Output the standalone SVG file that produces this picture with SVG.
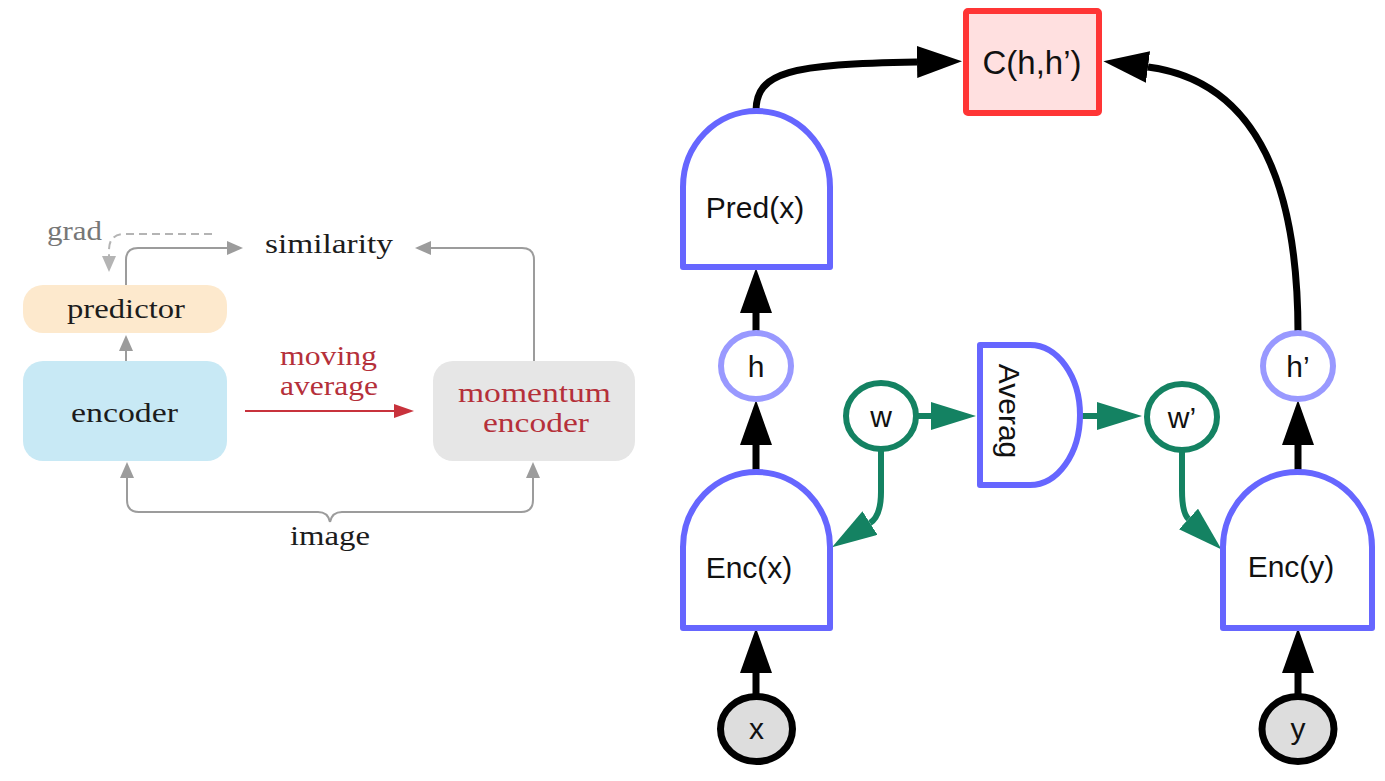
<svg xmlns="http://www.w3.org/2000/svg" width="1385" height="781" viewBox="0 0 1385 781">
<style>
.serif{font-family:"Liberation Serif","Times New Roman",serif;font-size:27px;}
.dark{fill:#1c1c1c;}
.red{fill:#b5303a;}
.sans{font-family:"Liberation Sans",Arial,sans-serif;font-size:30px;fill:#111;text-anchor:middle;}
.gray{fill:none;stroke:#9c9c9c;stroke-width:2;}
.blk{fill:none;stroke:#000;stroke-width:7;}
.grn{fill:none;stroke:#148262;stroke-width:6;}
.blue{fill:#fff;stroke:#6666ff;stroke-width:6;stroke-linejoin:round;}
</style>
<defs>
<marker id="ag" markerUnits="userSpaceOnUse" markerWidth="16" markerHeight="14" viewBox="0 0 16 14" refX="0" refY="7" orient="auto"><path d="M0,0 L16,7 L0,14 Z" fill="#9c9c9c"/></marker>
<marker id="agl" markerUnits="userSpaceOnUse" markerWidth="16" markerHeight="14" viewBox="0 0 16 14" refX="0" refY="7" orient="auto"><path d="M0,0 L16,7 L0,14 Z" fill="#b4b4b4"/></marker>
<marker id="ar" markerUnits="userSpaceOnUse" markerWidth="20" markerHeight="14" viewBox="0 0 20 14" refX="0" refY="7" orient="auto"><path d="M0,0 L20,7 L0,14 Z" fill="#c8323c"/></marker>
<marker id="ab" markerUnits="userSpaceOnUse" markerWidth="45" markerHeight="32" viewBox="0 0 45 32" refX="0" refY="16" orient="auto"><path d="M0,0 L45,16 L0,32 Z" fill="#000"/></marker>
<marker id="agn" markerUnits="userSpaceOnUse" markerWidth="45" markerHeight="28" viewBox="0 0 45 28" refX="0" refY="14" orient="auto"><path d="M0,0 L45,14 L0,28 Z" fill="#148262"/></marker>
</defs>

<!-- Left diagram -->
<g id="connectors-left">
<path class="gray" d="M126,361 V351" marker-end="url(#ag)"/>
<path class="gray" d="M126,285 V260 Q126,248 138,248 H227" marker-end="url(#ag)"/>
<path class="gray" d="M534,361 V260 Q534,248 522,248 H431" marker-end="url(#ag)"/>
<path d="M212,234 H125 Q109,234 109,250 V256" fill="none" stroke="#b4b4b4" stroke-width="2" stroke-dasharray="8,5" marker-end="url(#agl)"/>
<path d="M245,411 H394" fill="none" stroke="#c8323c" stroke-width="2" marker-end="url(#ar)"/>
<path class="gray" d="M330,522 Q328,512 318,512 H139 Q127,512 127,500 V478" marker-end="url(#ag)"/>
<path class="gray" d="M330,522 Q332,512 342,512 H521 Q533,512 533,500 V478" marker-end="url(#ag)"/>
</g>
<g id="predictor">
<rect x="23" y="285" width="204" height="48" rx="20" fill="#fde9cd"/>
<text class="serif dark" x="67" y="318" textLength="118" lengthAdjust="spacingAndGlyphs">predictor</text>
</g>
<g id="encoder">
<rect x="23" y="361" width="204" height="100" rx="20" fill="#c8e9f5"/>
<text class="serif dark" x="71" y="422" textLength="107" lengthAdjust="spacingAndGlyphs">encoder</text>
</g>
<g id="momentum-encoder">
<rect x="433" y="361" width="202" height="100" rx="20" fill="#e6e6e6"/>
<text class="serif red" x="458" y="402" textLength="153" lengthAdjust="spacingAndGlyphs">momentum</text>
<text class="serif red" x="483" y="432" textLength="106" lengthAdjust="spacingAndGlyphs">encoder</text>
</g>
<g id="labels-left">
<text class="serif" x="47" y="240" fill="#777" textLength="55" lengthAdjust="spacingAndGlyphs">grad</text>
<text class="serif dark" x="265" y="253" textLength="128" lengthAdjust="spacingAndGlyphs">similarity</text>
<text class="serif red" x="280" y="365" textLength="97" lengthAdjust="spacingAndGlyphs">moving</text>
<text class="serif red" x="280" y="395" textLength="98" lengthAdjust="spacingAndGlyphs">average</text>
<text class="serif dark" x="290" y="545" textLength="80" lengthAdjust="spacingAndGlyphs">image</text>
</g>

<!-- Right diagram -->
<g id="connectors-right">
<path class="blk" d="M756,695 V673" marker-end="url(#ab)"/>
<path class="blk" d="M756,472 V445" marker-end="url(#ab)"/>
<path class="blk" d="M756,333 V313" marker-end="url(#ab)"/>
<path class="blk" d="M1298,695 V673" marker-end="url(#ab)"/>
<path class="blk" d="M1298,470 V445" marker-end="url(#ab)"/>
<path class="blk" d="M756,111 C756,72 790,64 917,62" marker-end="url(#ab)"/>
<path class="blk" d="M1298,333 C1298,195 1262,82 1148,67" marker-end="url(#ab)"/>
<path class="grn" d="M916,416 H931" marker-end="url(#agn)"/>
<path class="grn" d="M1080,416 H1097" marker-end="url(#agn)"/>
<path class="grn" d="M881,449 V492 Q881,516 870,523" marker-end="url(#agn)"/>
<path class="grn" d="M1182,450 V490 Q1182,513 1188.5,519" marker-end="url(#agn)"/>
</g>
<g id="C">
<rect x="966" y="11" width="133" height="102" rx="2" fill="#ffe0e0" stroke="#ff3535" stroke-width="6"/>
<text class="sans" x="1032" y="74" style="font-size:33px">C(h,h’)</text>
</g>
<g id="Pred">
<path class="blue" d="M683,267 V187 A73.5,76 0 0 1 830,187 V267 Z"/>
<text class="sans" x="755" y="218">Pred(x)</text>
</g>
<g id="Encx">
<path class="blue" d="M683,628 V547 A73.5,75 0 0 1 830,547 V628 Z"/>
<text class="sans" x="749" y="578">Enc(x)</text>
</g>
<g id="Ency">
<path class="blue" d="M1223,628 V547 A74.5,75 0 0 1 1372,547 V628 Z"/>
<text class="sans" x="1291" y="577">Enc(y)</text>
</g>
<g id="Averag">
<path class="blue" d="M980,345 H1030 A50,70 0 0 1 1030,485 H980 Z"/>
<text class="sans" transform="translate(999,411) rotate(90)" x="0" y="0">Averag</text>
</g>
<g id="h">
<ellipse cx="756" cy="366" rx="35" ry="33" fill="#fff" stroke="#9999ff" stroke-width="6"/>
<text class="sans" x="756" y="377">h</text>
</g>
<g id="hp">
<ellipse cx="1298" cy="366" rx="35" ry="33" fill="#fff" stroke="#9999ff" stroke-width="6"/>
<text class="sans" x="1298" y="377">h’</text>
</g>
<g id="w">
<ellipse cx="881" cy="416" rx="35" ry="33" fill="#fff" stroke="#148262" stroke-width="6"/>
<text class="sans" x="881" y="427">w</text>
</g>
<g id="wp">
<ellipse cx="1182" cy="417" rx="35" ry="33" fill="#fff" stroke="#148262" stroke-width="6"/>
<text class="sans" x="1182" y="428">w’</text>
</g>
<g id="x">
<ellipse cx="756.5" cy="729" rx="36" ry="32.5" fill="#dddddd" stroke="#000" stroke-width="7"/>
<text class="sans" x="756.5" y="739">x</text>
</g>
<g id="y">
<ellipse cx="1298" cy="729" rx="36" ry="32.5" fill="#dddddd" stroke="#000" stroke-width="7"/>
<text class="sans" x="1298" y="739">y</text>
</g>
</svg>
